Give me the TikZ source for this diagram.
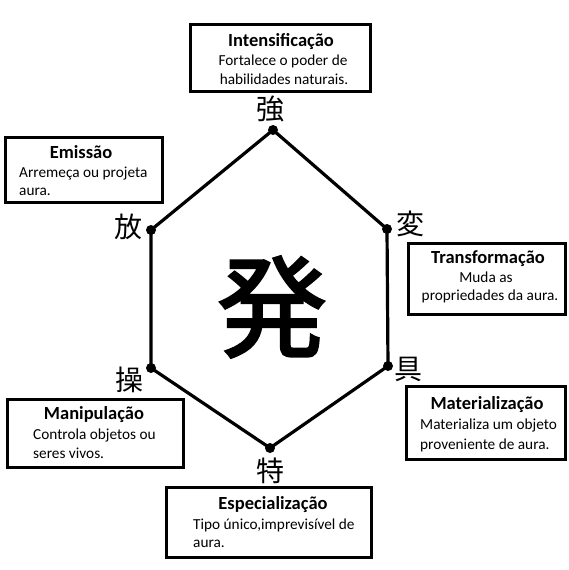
\documentclass[tikz,border=0pt]{standalone}
\usepackage{fontspec}
\setmainfont{Carlito}
\newfontfamily\cjk{Noto Sans CJK JP}
\newfontfamily\cjkb[FakeBold=2.2]{Noto Sans CJK JP}
\begin{document}
\begin{tikzpicture}[x=1pt,y=-1pt,
  infobox/.style={draw=black,line width=3pt,inner sep=0pt},
  ttl/.style={font=\fontsize{18.5}{22}\selectfont\bfseries,anchor=base,inner sep=0pt},
  bodyc/.style={font=\fontsize{15.3}{19}\selectfont,anchor=base,inner sep=0pt},
  bodyl/.style={font=\fontsize{15.3}{19}\selectfont,anchor=base west,inner sep=0pt},
  kanji/.style={font=\cjk\fontsize{28}{30}\selectfont,inner sep=0pt},
  vdot/.style={circle,fill=black,minimum size=10pt,inner sep=0pt},
  edge/.style={line width=3.2pt}]
\useasboundingbox (0,0) rectangle (569,570);
\fill[white] (0,0) rectangle (569,570);
% boxes
\node[infobox,minimum width=180pt,minimum height=67pt] (bI) at (280,58) {};
\node[infobox,minimum width=157pt,minimum height=65pt] (bE) at (84,170) {};
\node[infobox,minimum width=157pt,minimum height=71pt] (bT) at (486.5,278.5) {};
\node[infobox,minimum width=176pt,minimum height=68pt] (bM) at (95,433) {};
\node[infobox,minimum width=159pt,minimum height=73pt] (bMa) at (486,423) {};
\node[infobox,minimum width=205pt,minimum height=70pt] (bS) at (269,522) {};
% texts
\node[ttl] (tI) at (281,46) {Intensificação};
\node[bodyc] (tI1) at (283,65) {Fortalece o poder de};
\node[bodyc] (tI2) at (284,84) {habilidades naturais.};
\node[ttl] (tE) at (81,158) {Emissão};
\node[bodyl] (tE1) at (19,177) {Arremeça ou projeta};
\node[bodyl] (tE2) at (19,195) {aura.};
\node[ttl] (tT) at (488,263) {Transformação};
\node[bodyc] (tT1) at (486,282) {Muda as};
\node[bodyc] (tT2) at (490,300) {propriedades da aura.};
\node[ttl] (tM) at (94,419) {Manipulação};
\node[bodyl] (tM1) at (33,439) {Controla objetos ou};
\node[bodyl] (tM2) at (33,458) {seres vivos.};
\node[ttl] (tMa) at (487,409) {Materialização};
\node[bodyl] (tMa1) at (420,429) {Materializa um objeto};
\node[bodyl] (tMa2) at (420,449) {proveniente de aura.};
\node[ttl] (tS) at (273,509) {Especialização};
\node[bodyl] (tS1) at (193,529) {Tipo único,imprevisível de};
\node[bodyl] (tS2) at (193,547) {aura.};
% kanji labels
\node[kanji] (kI) at (270,109) {強};
\node[kanji] (kE) at (128,227) {放};
\node[kanji] (kT) at (410,224) {変};
\node[kanji] (kMa) at (408,369) {具};
\node[kanji] (kM) at (129,380) {操};
\node[kanji] (kS) at (270,471) {特};
\node[font=\cjkb\fontsize{110}{110}\selectfont,inner sep=0pt] (center) at (272,307) {発};
% hexagon
\node[vdot] (v1) at (273,130) {};
\node[vdot] (v2) at (387,229) {};
\node[vdot] (v3) at (388,366) {};
\node[vdot] (v4) at (270,448) {};
\node[vdot] (v5) at (151,368) {};
\node[vdot] (v6) at (151,230) {};
\draw[edge] (v1.center) -- (v2.center) -- (v3.center) -- (v4.center) -- (v5.center) -- (v6.center) -- cycle;
\end{tikzpicture}
\end{document}
